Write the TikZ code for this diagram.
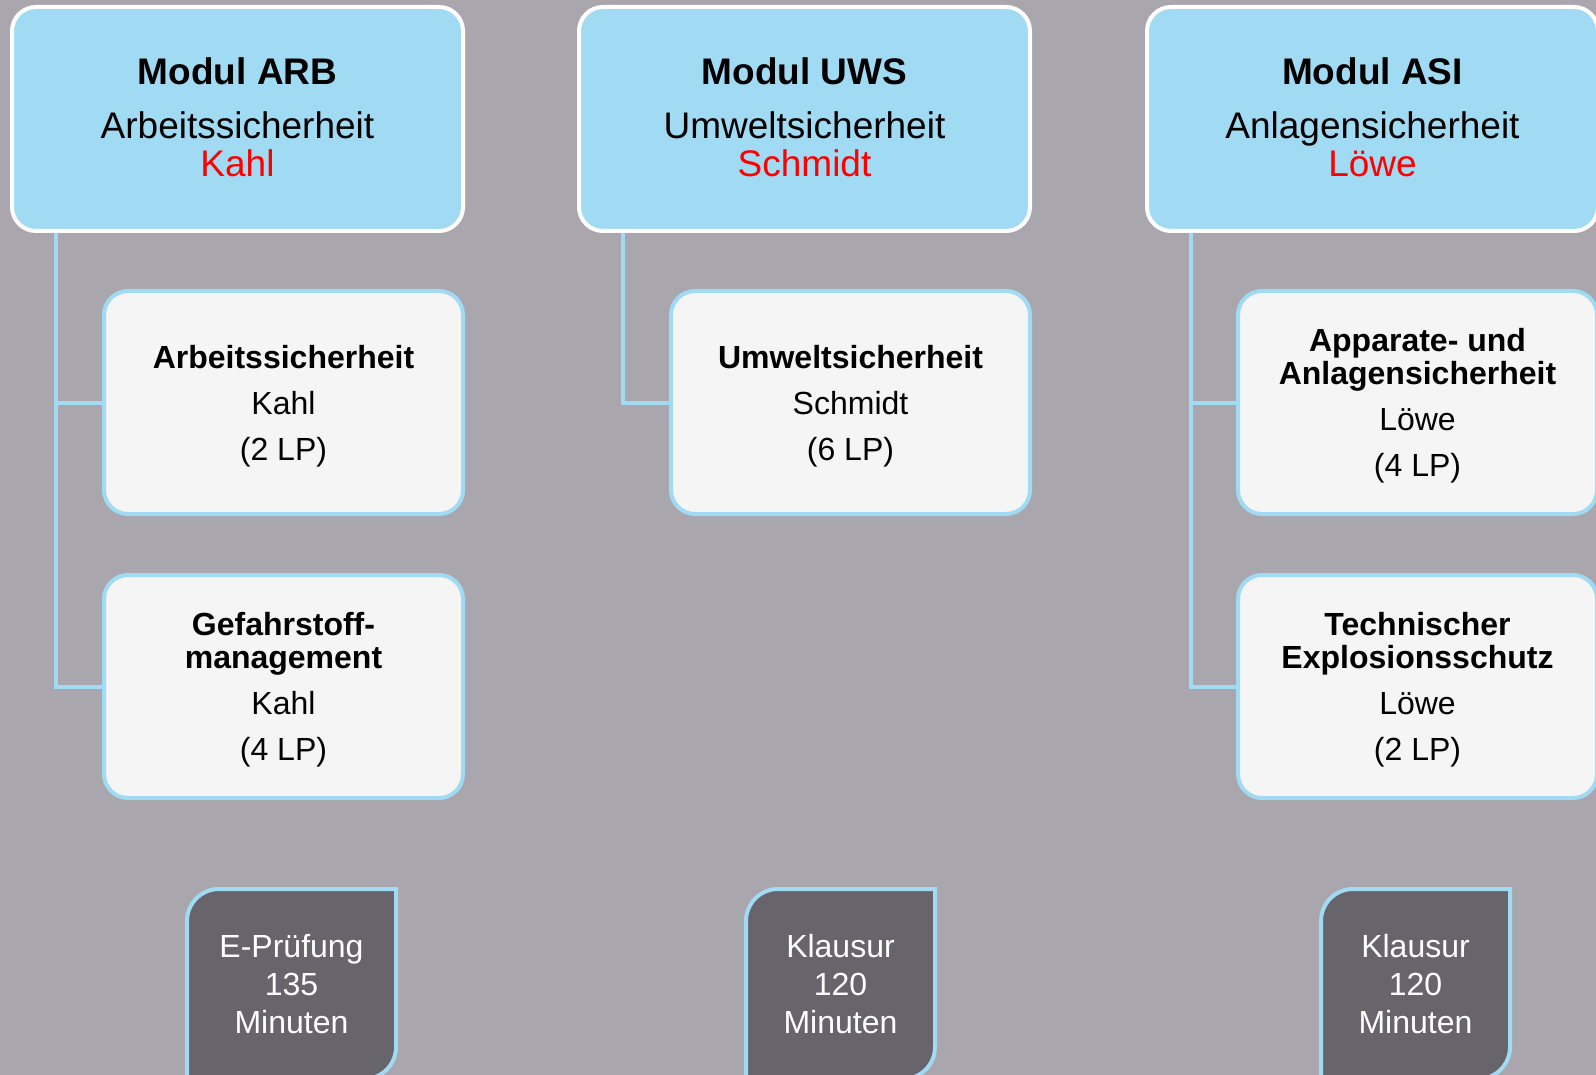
\documentclass[tikz,border=0pt]{standalone}
\usepackage{fontspec}
\setmainfont{Liberation Sans}
\usetikzlibrary{positioning}
\definecolor{bggrey}{HTML}{A9A6AD}
\definecolor{skyblue}{HTML}{A1DAF3}
\definecolor{paper}{HTML}{F5F5F5}
\definecolor{slate}{HTML}{68646B}
\definecolor{namered}{HTML}{FF0000}
\newcommand\looselines{\lineskiplimit-100pt\relax}

\begin{document}
\begin{tikzpicture}[x=1pt,y=-1pt,
	modul/.style={draw=white, line width=4pt, fill=skyblue, rounded corners=24pt,
		minimum width=451pt, minimum height=224pt, inner sep=0pt, align=center, text depth=3pt,
		font={\fontsize{37}{38}\selectfont\looselines}},
	kurs/.style={draw=skyblue, line width=4pt, fill=paper, rounded corners=24pt,
		minimum width=359pt, minimum height=223pt, inner sep=0pt, align=center, text depth=0pt,
		font={\fontsize{32}{33}\selectfont\looselines}},
	examspace/.style={minimum height=190pt, inner sep=0pt, outer sep=0pt},
	exam/.style={draw=skyblue, line width=4pt, fill=slate},
	examtext/.style={text=white, align=center, inner sep=0pt,
		font={\fontsize{32}{38}\selectfont\looselines}},
	link/.style={draw=skyblue, line width=4pt}]

	\useasboundingbox (0,0) rectangle (1596,1075);
	\clip (0,0) rectangle (1596,1075);
	\fill[bggrey] (0,0) rectangle (1596,1075);

	% Module
	\node[modul] (arb) at (237.5,119) {\textbf{Modul ARB}\\[16pt]Arbeitssicherheit\\\textcolor{namered}{Kahl}};
	\node[modul] (uws) at (804.5,119) {\textbf{Modul UWS}\\[16pt]Umweltsicherheit\\\textcolor{namered}{Schmidt}};
	\node[modul] (asi) at (1372.5,119) {\textbf{Modul ASI}\\[16pt]Anlagensicherheit\\\textcolor{namered}{Löwe}};

	% Lehrveranstaltungen
	\node[kurs] (arbA) at (283.5,402.5) {\textbf{Arbeitssicherheit}\\[13pt]Kahl\\[13pt](2 LP)};
	\node[kurs, below=57pt of arbA] (arbB) {\textbf{Gefahrstoff-}\\\textbf{management}\\[13pt]Kahl\\[13pt](4 LP)};
	\node[kurs] (uwsA) at (850.5,402.5) {\textbf{Umweltsicherheit}\\[13pt]Schmidt\\[13pt](6 LP)};
	\node[kurs] (asiA) at (1417.5,402.5) {\textbf{Apparate- und}\\\textbf{Anlagensicherheit}\\[13pt]Löwe\\[13pt](4 LP)};
	\node[kurs, below=57pt of asiA] (asiB) {\textbf{Technischer}\\\textbf{Explosionsschutz}\\[13pt]Löwe\\[13pt](2 LP)};

	\draw[link] ([xshift=46pt]arb.south west) |- (arbA.west);
	\draw[link] ([xshift=46pt]arb.south west) |- (arbB.west);
	\draw[link] ([xshift=46pt]uws.south west) |- (uwsA.west);
	\draw[link] ([xshift=46pt]asi.south west) |- (asiA.west);
	\draw[link] ([xshift=46pt]asi.south west) |- (asiB.west);

	% Pruefungen
	\node[examspace, minimum width=209pt] (arbX) at (291.5,984) {};
	\node[examspace, minimum width=189pt] (uwsX) at (840.5,984) {};
	\node[examspace, minimum width=189pt] (asiX) at (1415.5,984) {};
	\foreach \n in {arbX,uwsX,asiX}
		\draw[exam] (\n.south west) -- ([yshift=-32pt]\n.north west) arc[start angle=180, end angle=90, radius=32pt]
			-- (\n.north east) -- ([yshift=32pt]\n.south east) arc[start angle=0, end angle=-90, radius=32pt] -- cycle;
	\node[examtext] (arbXt) at (arbX) {E-Prüfung\\135\\Minuten};
	\node[examtext] (uwsXt) at (uwsX) {Klausur\\120\\Minuten};
	\node[examtext] (asiXt) at (asiX) {Klausur\\120\\Minuten};
\end{tikzpicture}
\end{document}
